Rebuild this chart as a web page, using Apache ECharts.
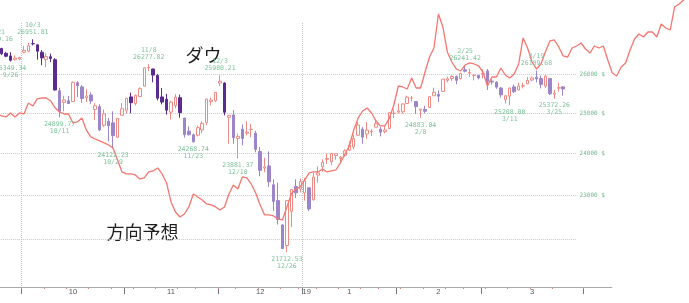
<!DOCTYPE html>
<html><head><meta charset="utf-8">
<script src="https://cdn.jsdelivr.net/npm/echarts@6/dist/echarts.min.js"></script>
<style>html,body{margin:0;padding:0;background:#fff}#c{width:689px;height:303px}</style>
</head><body><div id="c"></div>
<script>
// ---- data ----
const tradingDates = [
'2018-09-21','2018-09-24','2018-09-25','2018-09-26','2018-09-27','2018-09-28',
'2018-10-01','2018-10-02','2018-10-03','2018-10-04','2018-10-05','2018-10-08','2018-10-09','2018-10-10','2018-10-11','2018-10-12','2018-10-15','2018-10-16','2018-10-17','2018-10-18','2018-10-19','2018-10-22','2018-10-23','2018-10-24','2018-10-25','2018-10-26','2018-10-29','2018-10-30','2018-10-31',
'2018-11-01','2018-11-02','2018-11-05','2018-11-06','2018-11-07','2018-11-08','2018-11-09','2018-11-12','2018-11-13','2018-11-14','2018-11-15','2018-11-16','2018-11-19','2018-11-20','2018-11-21','2018-11-23','2018-11-26','2018-11-27','2018-11-28','2018-11-29','2018-11-30',
'2018-12-03','2018-12-04','2018-12-06','2018-12-07','2018-12-10','2018-12-11','2018-12-12','2018-12-13','2018-12-14','2018-12-17','2018-12-18','2018-12-19','2018-12-20','2018-12-21','2018-12-24','2018-12-26','2018-12-27','2018-12-28','2018-12-31',
'2019-01-02','2019-01-03','2019-01-04','2019-01-07','2019-01-08','2019-01-09','2019-01-10','2019-01-11','2019-01-14','2019-01-15','2019-01-16','2019-01-17','2019-01-18','2019-01-22','2019-01-23','2019-01-24','2019-01-25','2019-01-28','2019-01-29','2019-01-30','2019-01-31',
'2019-02-01','2019-02-04','2019-02-05','2019-02-06','2019-02-07','2019-02-08','2019-02-11','2019-02-12','2019-02-13','2019-02-14','2019-02-15','2019-02-19','2019-02-20','2019-02-21','2019-02-22','2019-02-25','2019-02-26','2019-02-27','2019-02-28',
'2019-03-01','2019-03-04','2019-03-05','2019-03-06','2019-03-07','2019-03-08','2019-03-11','2019-03-12','2019-03-13','2019-03-14','2019-03-15','2019-03-18','2019-03-19','2019-03-20','2019-03-21','2019-03-22','2019-03-25','2019-03-26','2019-03-27'];
const futureDates = [
'2019-03-28','2019-03-29','2019-03-30','2019-03-31','2019-04-01','2019-04-02','2019-04-03','2019-04-04','2019-04-05','2019-04-06','2019-04-07','2019-04-08','2019-04-09','2019-04-10','2019-04-11','2019-04-12','2019-04-13','2019-04-14','2019-04-15','2019-04-16','2019-04-17','2019-04-18','2019-04-19','2019-04-20','2019-04-21','2019-04-22','2019-04-23','2019-04-24','2019-04-25'];

const open = [26656,26700,26570,26500,26400,26420,
26598,26630,26833,26800,26600,26400,26480,26400,25580,25280,25320,25300,25790,25680,25400,25470,25100,25170,24700,24800,24760,24400,24950,
25080,25420,25250,25430,25700,26180,26150,25980,25420,25360,25030,25200,25400,24880,24550,24460,24450,24580,24770,25300,25320,
25780,25780,24900,24960,24370,24600,24500,24590,24500,24050,23650,23700,23250,22880,22320,21860,22630,23210,23150,
23060,23180,22900,23480,23680,23860,23800,23950,23880,23960,24080,24160,24450,24600,24480,24540,24650,24600,24540,24620,25000,
25030,25040,25250,25390,25300,25080,25100,25150,25450,25490,25560,25850,25900,25950,25900,26130,26040,25980,25980,
26020,26100,25830,25800,25650,25350,25440,25680,25600,25700,25760,25860,25930,25900,25700,25900,25490,25649,25680];
const close = [26743,26562,26492,26385,26440,26458,
26651,26774,26828,26627,26447,26487,26431,25599,25053,25340,25251,25798,25707,25379,25444,25317,25191,24583,24985,24688,24443,24875,25116,
25381,25271,25462,25635,26180,26191,25989,25387,25286,25081,25289,25413,25017,24466,24465,24286,24640,24749,25366,25339,25538,
25826,25027,24948,24389,24423,24370,24527,24597,24101,23593,23676,23324,22860,22445,21792,22878,23139,23062,23327,
23346,22686,23433,23531,23787,23879,24002,23996,23910,24066,24207,24370,24706,24404,24576,24553,24737,24528,24580,25015,25000,
25064,25239,25412,25390,25170,25106,25053,25426,25543,25439,25883,25891,25954,25851,26032,26092,26058,25985,25916,
26026,25820,25807,25673,25473,25450,25651,25555,25703,25710,25849,25914,25887,25746,25963,25502,25517,25658,25626];
const low = [26640,26520,26465,26349.34,26380,26380,
26570,26600,26784,26400,26252,26193,26333,25590,24899.77,25049,25240,25300,25420,25270,25290,25240,24830,24550,24650,24300,24122.23,24380,24950,
25000,25000,25200,25420,25690,26100,25800,25330,25230,24970,24840,25130,24890,24390,24440,24268.74,24420,24500,24700,25200,25290,
25700,24950,24240,24240,23881.37,24200,24450,24400,24030,23450,23550,23200,22640,22330,21790,21712.53,22270,22940,23070,
22880,22640,22880,23300,23560,23750,23710,23850,23780,23920,24060,24100,24430,24240,24360,24430,24650,24420,24500,24600,24880,
25000,24990,25250,25300,24980,24883.04,25000,25150,25450,25290,25550,25800,25840,25750,25870,26060,25940,25850,25880,
25900,25600,25740,25630,25400,25250,25208.00,25520,25580,25640,25750,25830,25800,25640,25650,25470,25372.26,25560,25450];
const high = [26769.16,26720,26610,26600,26515,26480,
26773,26852,26951.81,26809,26660,26570,26560,26440,25660,25450,25440,25820,25830,25730,25620,25540,25260,25230,25100,24880,25050,24880,25260,
25400,25530,25480,25670,26190,26277.82,26160,26020,25650,25500,25320,25490,25480,24880,24670,24490,24690,24800,25370,25400,25540,
25980.21,25800,24960,25080,24490,24720,24800,24730,24560,24160,23900,24050,23380,23300,22340,22880,23140,23380,23400,
23410,23180,23530,23690,23860,24000,24010,24000,23940,24100,24300,24460,24780,24650,24780,24600,24850,24660,24690,25030,25100,
25250,25250,25450,25440,25310,25110,25190,25440,25660,25590,25890,25950,25990,25980,26050,26241.42,26160,26010,26000,
26140,26150,25880,25830,25680,25460,25660,25740,25790,25790,25940,25950,26109.68,25980,25990,25910,25600,25790,25700];

// 方向予想 (one value per day, trading days then calendar days)
const forecast = [24983,24932,24908,25009,24908,25009,24983,25264,25187,25367,
25392,25392,25315,25136,25034,24983,24983,24756,24782,24883,
24581,24407,24357,24308,24259,24209,24136,23843,23555,23507,
23507,23484,23388,23412,23555,23579,23651,23507,23294,22849,
22617,22503,22571,22733,23034,22965,22895,22802,22779,22733,
22664,22733,23034,23246,23151,23436,23412,23269,23058,22779,
22549,22549,22526,22457,22434,22733,23034,23151,23199,23364,
23531,23555,23555,23627,23555,23579,23602,23772,23989,24184,
24581,24883,25059,25136,25009,24806,24681,24681,24883,25212,
25703,25677,25625,25913,25651,25651,26071,26471,26714,27653,
27290,26606,26337,26151,26098,26257,26311,26284,26231,26071,
25703,25939,25939,26177,25992,25913,26018,26284,26987,26714,
26337,26151,26284,26606,26905,26932,26742,26498,26471,26714,
26769,26850,26687,26579,26769,26714,26769,26391,26045,25966,
26204,26311,26660,26960,27097,27014,27152,27152,27014,27373,
27262,27207,27850,27935,28048,28134,28191];

const highMarks = ['2018-09-21','2018-10-03','2018-11-08','2018-12-03','2019-02-25','2019-03-19'];
const lowMarks = ['2018-09-26','2018-10-11','2018-10-29','2018-11-23','2018-12-10','2018-12-26','2019-02-08','2019-03-11','2019-03-25'];
const priceLevels = [22000,23000,24000,25000,26000];

// ---- styling / layout ----
const darkDown = new Set(['2018-09-24','2018-09-25','2018-09-26','2018-10-03','2018-10-04','2018-10-05','2018-10-09','2018-10-10','2018-11-02','2018-11-09','2018-11-12','2018-11-13','2018-11-14','2018-11-19','2018-12-04']);
const DARK = '#5b2b8f', LIGHT = '#9c85c9', UP = '#f08a84', GREEN = '#7cc29a';
const Y_MIN = 20958, Y_MAX_C = 27401, Y_MAX_F = 28048;
const AXIS_END = 138;     // categories covered by the visible axis line
const GRID_LINE_END = 130;

const dates = tradingDates.concat(futureDates);
const ym = i => dates[i].slice(0, 7);
const isMonthStart = i => i > 0 && ym(i) !== ym(i - 1);
const dayNum = s => Date.UTC(+s.slice(0, 4), +s.slice(5, 7) - 1, +s.slice(8, 10)) / 864e5;
const wd = s => (new Date(dayNum(s) * 864e5).getUTCDay() + 6) % 7;
const isWeekStart = i => i > 0 && (wd(dates[i]) < wd(dates[i - 1]) || dayNum(dates[i]) - dayNum(dates[i - 1]) >= 7);
const md = s => (+s.slice(5, 7)) + '/' + (+s.slice(8, 10));

const monthLabels = {};
const starts = [];
for (let i = 1; i < dates.length; i++) if (isMonthStart(i)) starts.push(i);
for (let k = 0; k + 1 < starts.length; k++) {
  const s = starts[k], e = starts[k + 1];
  if (e > AXIS_END) continue;
  monthLabels[s + Math.floor((e - s) / 2)] = String(+dates[s].slice(5, 7));
  if (dates[s].slice(0, 4) !== dates[s - 1].slice(0, 4)) monthLabels[s] = '{yr|' + dates[s].slice(2, 4) + '}';
}

const candleData = open.map((o, i) => {
  const it = { value: [o, close[i], low[i], high[i]] };
  if (darkDown.has(dates[i])) it.itemStyle = { color0: DARK, borderColor0: DARK };
  return it;
});

const labelFont = { fontFamily: 'DejaVu Sans Mono', fontSize: 6.5, lineHeight: 7, color: GREEN };
const markPts = [];
highMarks.forEach(d => {
  const i = dates.indexOf(d);
  markPts.push({ coord: [d, high[i]], label: Object.assign({ position: 'top', distance: 3,
    formatter: md(d) + '\n' + high[i].toFixed(2) }, labelFont) });
});
lowMarks.forEach(d => {
  const i = dates.indexOf(d);
  markPts.push({ coord: [d, low[i]], label: Object.assign({ position: 'bottom', distance: 3,
    formatter: low[i].toFixed(2) + '\n' + md(d) }, labelFont) });
});

const markLines = priceLevels.map(v => [
  { name: v + ' $', coord: [dates[0], v],
    lineStyle: { type: 'dotted', color: '#c4cbc7', width: 1 },
    label: { show: v !== 22000, position: 'end', distance: 3, formatter: '{b}',
      fontFamily: 'DejaVu Sans Mono', fontSize: 6, color: '#6fb98a' } },
  { coord: [dates[GRID_LINE_END], v] }
]);
markLines.push([
  { coord: [dates[0], Y_MIN], lineStyle: { type: 'solid', color: '#a8a8a8', width: 1 }, label: { show: false } },
  { coord: [dates[AXIS_END], Y_MIN] }
]);

const gridPos = { left: -5.04, right: -5.71, bottom: 16, outerBoundsMode: 'none', containLabel: false };

const option = {
  animation: false,
  backgroundColor: '#fff',
  grid: [Object.assign({ top: 23 }, gridPos), Object.assign({ top: 0 }, gridPos)],
  xAxis: [
    { type: 'category', gridIndex: 0, position: 'bottom', data: dates, boundaryGap: true,
      axisLine: { show: false },
      axisTick: { show: true, length: 7, interval: i => isMonthStart(i) && i < AXIS_END,
        lineStyle: { color: '#777', width: 1 } },
      axisLabel: { show: true, interval: i => monthLabels[i] !== undefined,
        formatter: (v, i) => monthLabels[i] || '', margin: 1,
        fontFamily: 'Liberation Sans', fontSize: 7.5, color: '#555',
        rich: { yr: { fontFamily: 'Liberation Sans', fontSize: 7.5, color: '#555', padding: [0, 0, 0, 4] } } },
      splitLine: { show: true, interval: i => isMonthStart(i) && i < tradingDates.length &&
          ['01', '10'].includes(dates[i].slice(5, 7)),
        lineStyle: { type: 'dotted', color: '#c4c4c4', width: 1 } } },
    { type: 'category', gridIndex: 0, position: 'bottom', offset: 0, data: dates, boundaryGap: true,
      axisLine: { show: false }, axisLabel: { show: false }, splitLine: { show: false },
      axisTick: { show: true, length: 2, interval: i => isWeekStart(i) && i < AXIS_END,
        lineStyle: { color: '#f27a74', width: 1 } } },
    { type: 'category', gridIndex: 1, data: dates, boundaryGap: true, show: false }
  ],
  yAxis: [
    { type: 'log', gridIndex: 0, min: Y_MIN, max: Y_MAX_C, show: false, splitLine: { show: false } },
    { type: 'log', gridIndex: 1, min: Y_MIN, max: Y_MAX_F, show: false, splitLine: { show: false } }
  ],
  series: [
    { type: 'candlestick', xAxisIndex: 0, yAxisIndex: 0, data: candleData, barWidth: 3, large: false,
      itemStyle: { color: '#ffffff', color0: LIGHT, borderColor: UP, borderColor0: LIGHT,
        borderColorDoji: UP, borderWidth: 1 },
      markPoint: { symbol: 'circle', symbolSize: 1, itemStyle: { color: 'rgba(0,0,0,0)' },
        silent: true, data: markPts, z: 10 },
      markLine: { symbol: ['none', 'none'], silent: true, data: markLines, z: 1 } },
    { type: 'line', name: '方向予想', xAxisIndex: 2, yAxisIndex: 1, data: forecast,
      symbol: 'none', smooth: false, z: 5,
      lineStyle: { color: '#f5766f', width: 1.3 } }
  ],
  graphic: [
    { type: 'text', x: 203.5, y: 55, style: { text: 'ダウ', fontSize: 18, fontFamily: 'Noto Sans CJK JP',
      fill: '#1e1e1e', align: 'center', verticalAlign: 'middle' } },
    { type: 'text', x: 142.5, y: 232.5, style: { text: '方向予想', fontSize: 18, fontFamily: 'Noto Sans CJK JP',
      fill: '#1e1e1e', align: 'center', verticalAlign: 'middle' } }
  ]
};
const chart = echarts.init(document.getElementById('c'));
chart.setOption(option);
</script></body></html>
